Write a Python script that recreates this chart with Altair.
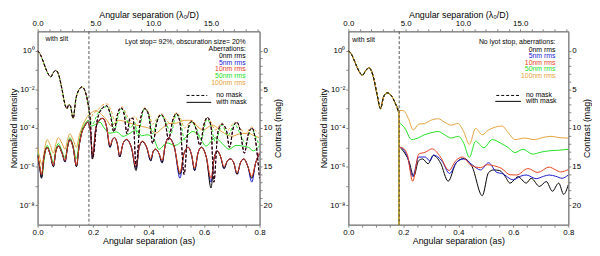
import altair as alt
import pandas as pd

# ---------------- data (x in arcsec, log10 of normalized intensity) ----------------
# Left panel: inner (with slit) profile, no mask (all aberrations overlap)
L_inner = [(0.000, 0.0), (0.010, -0.2), (0.020, -0.55), (0.030, -0.95), (0.040, -1.25),
           (0.048, -1.35), (0.056, -1.15), (0.066, -1.02), (0.076, -1.25), (0.088, -2.0),
           (0.100, -2.85), (0.106, -3.0), (0.112, -2.8), (0.118, -2.85), (0.128, -3.5),
           (0.138, -2.5), (0.150, -2.0), (0.160, -1.88), (0.170, -2.05), (0.180, -2.6),
           (0.190, -3.6)]
# Left, no mask, outer part
L_dash_0nm = [(0.198, -5.6), (0.215, -3.6), (0.232, -3.0), (0.249, -2.85), (0.262, -3.3),
              (0.275, -4.2), (0.288, -3.3), (0.300, -2.95), (0.312, -3.3), (0.322, -4.3),
              (0.333, -3.5), (0.344, -3.5), (0.355, -6.0), (0.370, -3.6), (0.386, -3.0),
              (0.400, -3.3), (0.415, -4.8), (0.430, -3.7), (0.445, -3.3), (0.460, -3.7),
              (0.472, -4.6), (0.487, -3.6), (0.500, -3.25), (0.513, -3.7), (0.528, -6.4),
              (0.543, -4.0), (0.556, -3.65), (0.570, -4.0), (0.585, -4.9), (0.600, -3.8),
              (0.612, -3.45), (0.625, -3.9), (0.635, -6.8), (0.650, -4.2), (0.665, -3.8),
              (0.680, -4.1), (0.692, -5.0), (0.705, -4.0), (0.718, -3.7), (0.730, -4.1),
              (0.745, -5.3), (0.760, -4.3), (0.773, -4.0), (0.785, -4.6), (0.800, -6.6)]
L_dash_100nm = [(0.198, -3.3), (0.215, -3.1), (0.235, -2.8), (0.250, -2.75), (0.265, -3.1),
                (0.278, -3.6), (0.292, -3.1), (0.305, -2.9), (0.320, -3.3), (0.335, -3.6),
                (0.350, -3.4), (0.365, -3.7), (0.385, -2.95), (0.400, -3.2), (0.415, -3.8),
                (0.430, -3.5), (0.445, -3.25), (0.465, -3.6), (0.480, -3.8), (0.500, -3.2),
                (0.515, -3.5), (0.530, -4.0), (0.555, -3.6), (0.575, -3.9), (0.590, -4.1),
                (0.610, -3.45), (0.625, -3.7), (0.640, -4.1), (0.665, -3.75), (0.685, -4.1),
                (0.710, -3.7), (0.730, -4.0), (0.750, -4.3), (0.770, -3.95), (0.790, -4.2),
                (0.800, -4.3)]
L_dash_50nm = [(0.198, -3.8), (0.215, -3.3), (0.235, -2.95), (0.250, -2.9), (0.265, -3.4),
               (0.278, -4.1), (0.292, -3.3), (0.305, -3.0), (0.320, -3.5), (0.335, -4.0),
               (0.350, -3.7), (0.360, -4.4), (0.385, -3.0), (0.400, -3.3), (0.415, -4.3),
               (0.430, -3.6), (0.445, -3.35), (0.465, -3.8), (0.480, -4.3), (0.500, -3.3),
               (0.515, -3.7), (0.530, -4.6), (0.555, -3.7), (0.575, -4.1), (0.590, -4.6),
               (0.610, -3.55), (0.625, -3.9), (0.640, -4.7), (0.665, -3.85), (0.685, -4.4),
               (0.710, -3.8), (0.730, -4.3), (0.750, -4.8), (0.770, -4.05), (0.790, -4.6),
               (0.800, -4.9)]
# Left, with mask
L_solid_10nm = [(0.000, -5.4), (0.007, -5.9), (0.014, -6.43), (0.022, -5.6), (0.034, -5.0),
                (0.046, -5.4), (0.057, -5.93), (0.066, -5.2), (0.075, -4.93), (0.088, -5.3),
                (0.099, -5.68), (0.108, -5.0), (0.116, -4.6), (0.128, -5.0), (0.140, -5.93),
                (0.150, -4.9), (0.160, -4.2), (0.170, -3.9), (0.180, -3.7), (0.190, -4.1),
                (0.198, -5.4), (0.210, -4.0), (0.222, -3.6), (0.235, -3.5), (0.248, -3.9),
                (0.261, -4.9), (0.270, -4.6), (0.278, -4.5), (0.287, -4.8), (0.296, -5.4),
                (0.308, -4.8), (0.320, -4.58), (0.338, -5.0), (0.355, -6.0), (0.366, -5.0),
                (0.378, -4.67), (0.393, -5.0), (0.408, -5.58), (0.417, -5.2), (0.425, -5.08),
                (0.437, -5.3), (0.449, -5.67), (0.460, -4.9), (0.472, -4.5), (0.493, -5.0),
                (0.513, -6.3), (0.528, -5.3), (0.543, -5.0), (0.555, -5.4), (0.566, -6.08),
                (0.578, -5.3), (0.590, -5.0), (0.608, -5.5), (0.625, -6.6), (0.637, -5.5),
                (0.648, -5.17), (0.660, -5.5), (0.672, -6.0), (0.684, -5.7), (0.695, -5.58),
                (0.707, -5.8), (0.719, -6.33), (0.731, -5.8), (0.743, -5.58), (0.758, -6.0),
                (0.772, -6.5), (0.786, -5.8), (0.800, -5.25)]
L_solid_5nm = [(0.000, -5.4), (0.007, -6.0), (0.014, -6.55), (0.022, -5.6), (0.034, -5.0),
               (0.046, -5.4), (0.057, -6.0), (0.066, -5.2), (0.075, -4.93), (0.088, -5.3),
               (0.099, -5.75), (0.108, -5.0), (0.116, -4.6), (0.128, -5.0), (0.140, -6.0),
               (0.150, -4.9), (0.160, -4.2), (0.170, -3.9), (0.180, -3.7), (0.190, -4.1),
               (0.198, -5.5), (0.210, -4.0), (0.222, -3.6), (0.235, -3.5), (0.248, -3.9),
               (0.261, -5.0), (0.270, -4.6), (0.278, -4.5), (0.287, -4.8), (0.296, -5.5),
               (0.308, -4.8), (0.320, -4.6), (0.338, -5.0), (0.355, -6.1), (0.366, -5.0),
               (0.378, -4.7), (0.393, -5.0), (0.408, -5.7), (0.417, -5.2), (0.425, -5.1),
               (0.437, -5.3), (0.449, -5.8), (0.460, -4.9), (0.472, -4.5), (0.493, -5.0),
               (0.513, -6.6), (0.528, -5.3), (0.543, -5.0), (0.555, -5.4), (0.566, -6.2),
               (0.578, -5.3), (0.590, -5.0), (0.608, -5.5), (0.625, -6.8), (0.637, -5.5),
               (0.648, -5.2), (0.660, -5.5), (0.672, -6.1), (0.684, -5.7), (0.695, -5.6),
               (0.707, -5.8), (0.719, -6.4), (0.731, -5.8), (0.743, -5.6), (0.758, -6.0),
               (0.772, -6.8), (0.786, -5.8), (0.800, -5.3)]
L_solid_0nm = [(0.000, -5.4), (0.007, -6.0), (0.014, -6.6), (0.022, -5.6), (0.034, -5.0),
               (0.046, -5.4), (0.057, -6.0), (0.066, -5.2), (0.075, -4.93), (0.088, -5.3),
               (0.099, -5.75), (0.108, -5.0), (0.116, -4.6), (0.128, -5.0), (0.140, -6.0),
               (0.150, -4.9), (0.160, -4.2), (0.170, -3.9), (0.180, -3.7), (0.190, -4.1),
               (0.198, -5.6), (0.210, -4.0), (0.222, -3.6), (0.235, -3.5), (0.248, -3.9),
               (0.261, -5.0), (0.270, -4.6), (0.278, -4.5), (0.287, -4.8), (0.296, -5.5),
               (0.308, -4.8), (0.320, -4.6), (0.338, -5.0), (0.355, -6.2), (0.366, -5.0),
               (0.378, -4.7), (0.393, -5.0), (0.408, -5.7), (0.417, -5.2), (0.425, -5.1),
               (0.437, -5.3), (0.449, -5.8), (0.460, -4.9), (0.472, -4.5), (0.493, -5.0),
               (0.513, -6.4), (0.528, -5.3), (0.543, -5.0), (0.555, -5.4), (0.566, -6.2),
               (0.578, -5.3), (0.590, -5.0), (0.608, -5.5), (0.625, -7.1), (0.637, -5.5),
               (0.648, -5.2), (0.660, -5.5), (0.672, -6.1), (0.684, -5.7), (0.695, -5.6),
               (0.707, -5.8), (0.719, -6.4), (0.731, -5.8), (0.743, -5.6), (0.758, -6.0),
               (0.772, -6.6), (0.786, -5.8), (0.800, -5.35)]
L_solid_50nm = [(0.000, -5.3), (0.007, -5.9), (0.016, -6.5), (0.024, -5.6), (0.034, -4.9),
                (0.046, -5.3), (0.057, -5.8), (0.066, -5.1), (0.075, -4.8), (0.088, -5.2),
                (0.099, -5.55), (0.108, -4.9), (0.116, -4.5), (0.128, -4.9), (0.140, -5.6),
                (0.150, -4.7), (0.160, -4.1), (0.170, -3.8), (0.182, -3.6), (0.195, -3.9),
                (0.210, -3.8), (0.225, -3.7), (0.240, -4.0), (0.261, -4.27), (0.285, -4.2),
                (0.308, -4.43), (0.330, -4.3), (0.355, -4.1), (0.375, -4.4), (0.395, -4.35),
                (0.420, -4.6), (0.437, -5.1), (0.466, -4.77), (0.495, -4.9), (0.531, -4.52),
                (0.560, -4.18), (0.585, -4.5), (0.607, -4.93), (0.640, -4.5), (0.665, -4.8),
                (0.690, -5.1), (0.715, -4.9), (0.737, -4.93), (0.760, -5.0), (0.778, -5.18),
                (0.800, -4.9)]
L_solid_100nm = [(0.000, -5.0), (0.007, -5.5), (0.016, -5.9), (0.024, -5.2), (0.034, -4.6),
                 (0.046, -4.9), (0.057, -5.3), (0.066, -4.8), (0.075, -4.5), (0.088, -4.8),
                 (0.099, -5.1), (0.108, -4.6), (0.116, -4.3), (0.128, -4.6), (0.140, -5.0),
                 (0.150, -4.4), (0.165, -3.8), (0.180, -3.4), (0.195, -3.2), (0.210, -3.1),
                 (0.230, -3.3), (0.250, -3.6), (0.265, -3.9), (0.290, -3.6), (0.320, -3.68),
                 (0.345, -3.8), (0.378, -3.93), (0.400, -4.0), (0.425, -4.27), (0.450, -4.0),
                 (0.472, -3.77), (0.500, -3.75), (0.531, -3.6), (0.549, -3.6), (0.575, -3.9),
                 (0.596, -4.1), (0.630, -3.85), (0.665, -4.2), (0.700, -4.43), (0.730, -4.3),
                 (0.760, -4.27), (0.780, -4.4), (0.800, -4.5)]

# Right panel: inner (with slit) profile, no mask
R_inner = [(0.000, 0.0), (0.010, -0.15), (0.020, -0.45), (0.030, -0.8), (0.040, -1.1),
           (0.052, -1.27), (0.064, -1.0), (0.076, -0.9), (0.090, -1.3), (0.105, -2.3),
           (0.117, -3.0), (0.128, -2.4), (0.141, -2.18), (0.155, -2.3), (0.170, -2.7),
           (0.183, -3.2)]
R_mask_gap = [(0.1836, -12.0), (0.1850, -12.0)]
R_100nm = [(0.186, -3.1), (0.200, -3.1), (0.218, -3.5), (0.236, -4.1), (0.256, -3.8),
           (0.277, -3.77), (0.300, -3.6), (0.327, -3.52), (0.350, -3.7), (0.374, -3.85),
           (0.398, -3.77), (0.420, -4.2), (0.440, -4.85), (0.463, -4.02), (0.487, -4.35),
           (0.510, -4.1), (0.535, -3.95), (0.558, -3.9), (0.585, -4.3), (0.606, -4.6),
           (0.641, -4.52), (0.677, -4.6), (0.705, -4.5), (0.736, -4.43), (0.770, -4.5),
           (0.800, -4.52)]
R_50nm = [(0.186, -3.77), (0.205, -4.0), (0.230, -4.6), (0.256, -4.5), (0.277, -4.35),
          (0.300, -4.25), (0.327, -4.18), (0.350, -4.35), (0.374, -4.52), (0.400, -4.43),
          (0.420, -4.8), (0.440, -5.52), (0.463, -4.68), (0.493, -5.02), (0.523, -4.6),
          (0.552, -4.77), (0.580, -5.0), (0.606, -5.27), (0.635, -5.1), (0.670, -5.35),
          (0.700, -5.25), (0.730, -5.18), (0.765, -5.15), (0.800, -5.1)]
R_10nm = [(0.186, -5.0), (0.200, -5.05), (0.215, -5.4), (0.234, -6.75), (0.256, -5.35),
          (0.280, -5.25), (0.305, -5.08), (0.335, -5.5), (0.366, -6.2), (0.390, -5.7),
          (0.415, -5.5), (0.446, -5.93), (0.481, -6.05), (0.505, -5.9), (0.529, -5.95),
          (0.558, -6.1), (0.588, -6.42), (0.612, -6.43), (0.653, -6.1), (0.689, -6.3),
          (0.730, -6.02), (0.754, -6.17), (0.772, -6.27), (0.800, -6.15)]
R_5nm = [(0.186, -5.0), (0.200, -5.1), (0.215, -5.5), (0.234, -6.5), (0.256, -5.5),
         (0.280, -5.5), (0.296, -5.7), (0.310, -5.4), (0.340, -5.7), (0.368, -6.35),
         (0.395, -5.75), (0.420, -5.6), (0.450, -5.9), (0.481, -6.17), (0.510, -5.8),
         (0.540, -6.3), (0.558, -6.35), (0.600, -6.68), (0.625, -6.5), (0.647, -6.43),
         (0.683, -6.62), (0.710, -6.5), (0.730, -6.43), (0.755, -6.5), (0.777, -6.6),
         (0.800, -6.43)]
R_0nm = [(0.186, -5.0), (0.200, -5.2), (0.220, -5.7), (0.238, -6.5), (0.255, -5.7),
         (0.270, -5.6), (0.290, -5.85), (0.309, -5.42), (0.335, -5.8), (0.363, -6.75),
         (0.392, -5.8), (0.420, -5.58), (0.450, -6.0), (0.487, -7.5), (0.510, -6.3),
         (0.529, -6.17), (0.550, -6.2), (0.570, -6.5), (0.588, -6.85), (0.617, -6.52),
         (0.647, -6.85), (0.665, -6.6), (0.695, -7.02), (0.720, -6.77), (0.742, -7.27),
         (0.765, -6.85), (0.783, -7.43), (0.800, -6.93)]

slit_edge = [0.185]

aberr_labels = ["0nm rms", "5nm rms", "10nm rms", "50nm rms", "100nm rms"]
aberr_colors = ["#000000", "#1a1ad0", "#e8401c", "#22e022", "#e6a23a"]
left_header = ["Lyot stop= 92%, obscuration size= 20%", "Aberrations:"]
right_header = ["No lyot stop, aberrations:"]
slit_label = ["with slit"]
style_labels = ["no mask", "with mask"]

x_ticks = [0.0, 0.05, 0.1, 0.15, 0.2, 0.25, 0.3, 0.35, 0.4, 0.45, 0.5, 0.55, 0.6, 0.65, 0.7, 0.75, 0.8]
y_ticks = [1e0, 1e-1, 1e-2, 1e-3, 1e-4, 1e-5, 1e-6, 1e-7, 1e-8]
y_tick_exp = [0, -2, -4, -6, -8]
y_tick_txt = ["10⁰", "10⁻²", "10⁻⁴", "10⁻⁶", "10⁻⁸"]
mag_ticks = list(range(0, 21))
ld_ticks = list(range(0, 20))

FONT = "Liberation Sans"
GREY = "#808080"
H = 196

# ---------------- helpers ----------------
xs = alt.Scale(domain=[0, 0.8], nice=False, zero=False)
ys = alt.Scale(type="log", domain=[1e-9, 1e1], nice=False)

y_expr = "".join(
    f"round(log(datum.value)/LN10) == {e} ? '{t}' : " for e, t in zip(y_tick_exp, y_tick_txt)
) + "''"

x_axis = alt.Axis(values=x_ticks, title="Angular separation (as)", labelFlush=False,
                  labelOverlap=False,
                  labelExpr="abs(datum.value*5 - round(datum.value*5)) < 0.001 ? format(datum.value, '.1f') : ''")
y_axis = alt.Axis(values=y_ticks, title="Normalized intensity", labelOverlap=False,
                  labelExpr=y_expr, titlePadding=1)


def df_of(points):
    d = pd.DataFrame(points, columns=["x", "lg"])
    d["I"] = 10.0 ** d["lg"]
    d["i"] = range(len(d))
    return d


def line(points, color, dashed=False, offset=0):
    kw = dict(color=color, strokeWidth=1, clip=True, interpolate="monotone")
    if dashed:
        kw["strokeDash"] = [3, 2]
        kw["strokeDashOffset"] = offset
    return alt.Chart(df_of(points)).mark_line(**kw).encode(
        x=alt.X("x:Q", scale=xs, axis=x_axis),
        y=alt.Y("I:Q", scale=ys, axis=y_axis),
        order="i:Q",
    )


def text(t, px, py, color="#000000", align="left"):
    return alt.Chart(pd.DataFrame({"t": [t]})).mark_text(
        font=FONT, fontSize=7, color=color, align=align, baseline="middle"
    ).encode(text="t:N", x=alt.value(px), y=alt.value(py))


def seg(px1, px2, py, dashed):
    kw = dict(color="#000000", strokeWidth=1)
    if dashed:
        kw["strokeDash"] = [3, 2]
    return alt.Chart(pd.DataFrame({"a": [0]})).mark_rule(**kw).encode(
        x=alt.value(px1), x2=alt.value(px2), y=alt.value(py))


def frame_axes():
    d = pd.DataFrame({"ld": [0, 19.2], "mag": [-2.5, 22.5]})
    return alt.Chart(d).mark_point(opacity=0).encode(
        x=alt.X("ld:Q", scale=alt.Scale(domain=[0, 19.2], nice=False, zero=False),
                axis=alt.Axis(orient="top", values=ld_ticks, labelFlush=False, labelOverlap=False,
                              title="Angular separation (λ₀/D)",
                              labelExpr="datum.value % 5 == 0 ? format(datum.value, '.1f') : ''")),
        y=alt.Y("mag:Q", scale=alt.Scale(domain=[-2.5, 22.5], nice=False, zero=False, reverse=True),
                axis=alt.Axis(orient="right", values=mag_ticks, labelOverlap=False,
                              title="Contrast (mag)", titlePadding=2, titleAngle=270,
                              titleBaseline="top",
                              labelExpr="datum.value % 5 == 0 ? datum.value : ''")),
    )


def vline():
    return alt.Chart(pd.DataFrame({"x": slit_edge})).mark_rule(
        color="#555555", strokeDash=[3, 2], strokeWidth=1
    ).encode(x=alt.X("x:Q", scale=xs, axis=x_axis))


# ---------------- left panel ----------------
left_lines = [
    line(L_solid_100nm, aberr_colors[4]),
    line(L_solid_50nm, aberr_colors[3]),
    line(L_solid_5nm, aberr_colors[1]),
    line(L_solid_0nm, aberr_colors[0]),
    line(L_solid_10nm, aberr_colors[2]),
    line(L_inner + L_dash_100nm, aberr_colors[4], dashed=True, offset=2.5),
    line(L_inner + L_dash_50nm, aberr_colors[3], dashed=True, offset=1.2),
    line(L_inner + L_dash_0nm, aberr_colors[1], dashed=True),
    line(L_inner + L_dash_0nm, aberr_colors[2], dashed=True),
    line(L_inner + L_dash_0nm, aberr_colors[0], dashed=True),
]
left_text = [text(slit_label[0], 8, 8),
             text(left_header[0], 211, 11, align="right"),
             text(left_header[1], 211, 18, align="right")]
for k in range(5):
    left_text.append(text(aberr_labels[k], 211, 25 + 6.75 * k, color=aberr_colors[k], align="right"))
left_text += [seg(151, 172, 65, True), text(style_labels[0], 181, 65),
              seg(151, 176, 72, False), text(style_labels[1], 181, 72)]

left = alt.layer(
    alt.layer(*left_lines, vline(), *left_text),
    frame_axes(),
).resolve_scale(x="independent", y="independent").properties(width=225, height=H)

# ---------------- right panel ----------------
right_lines = [
    line(R_inner + R_mask_gap + R_0nm, aberr_colors[0]),
    line(R_inner + R_mask_gap + R_5nm, aberr_colors[1]),
    line(R_inner + R_mask_gap + R_10nm, aberr_colors[2]),
    line(R_inner + R_mask_gap + R_50nm, aberr_colors[3]),
    line(R_inner + R_mask_gap + R_100nm, aberr_colors[4]),
    line(R_inner, aberr_colors[4], dashed=True, offset=2.5),
    line(R_inner, aberr_colors[0], dashed=True),
]
right_text = [text(slit_label[0], 4, 9),
              text(right_header[0], 210, 11, align="right")]
for k in range(5):
    right_text.append(text(aberr_labels[k], 210, 19 + 6.5 * k, color=aberr_colors[k], align="right"))
right_text += [seg(150, 174, 65, True), text(style_labels[0], 180, 65),
               seg(149, 175, 71, False), text(style_labels[1], 180, 71)]

right = alt.layer(
    alt.layer(*right_lines, vline(), *right_text),
    frame_axes(),
).resolve_scale(x="independent", y="independent").properties(width=223, height=H)

chart = alt.hconcat(left, right, spacing=36).properties(
    padding={"left": 0, "top": 0, "right": 0, "bottom": 0}
).configure_axis(
    labelFont=FONT, titleFont=FONT, labelFontSize=8, titleFontSize=9,
    titleFontWeight="normal", labelColor="#000000", titleColor="#000000",
    domainColor=GREY, tickColor=GREY, tickSize=2.5, labelPadding=1, titlePadding=1,
    grid=False,
).configure_view(stroke=GREY)

chart.save("out.html", embed_options={"renderer": "svg", "actions": False})
